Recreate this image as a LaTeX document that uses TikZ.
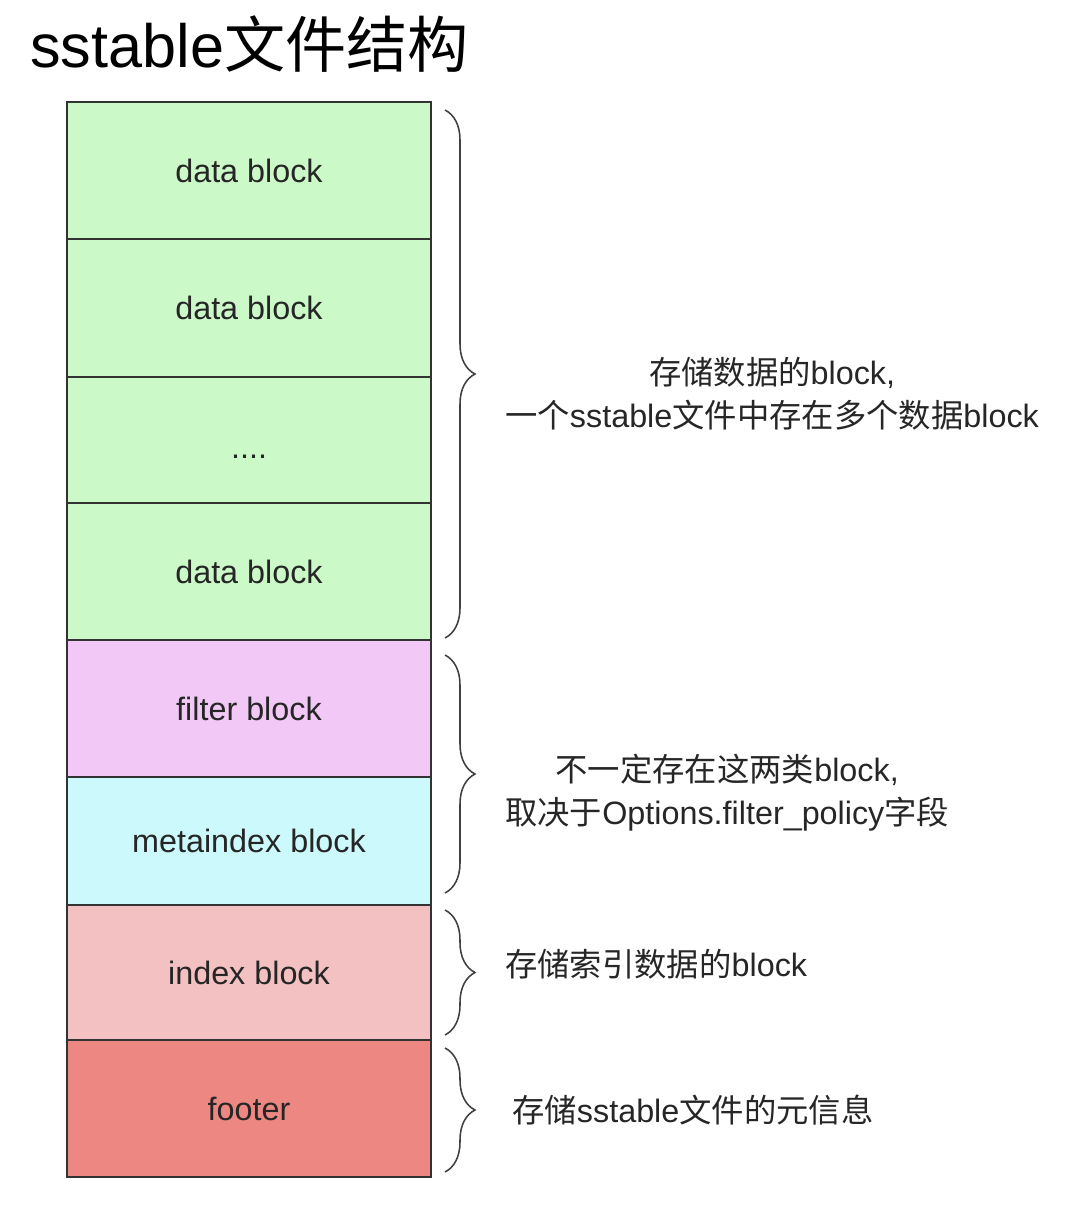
\documentclass[tikz,border=0pt]{standalone}
\usepackage{fontspec}
\setmainfont{Liberation Sans}
\newfontfamily\cjk{Noto Sans CJK SC}
\newcommand\zh[1]{{\cjk #1}}
\usetikzlibrary{positioning}
\usetikzlibrary{calc}
\usetikzlibrary{decorations.pathreplacing}
\definecolor{datagreen}{HTML}{CCF9C8}
\definecolor{filterpink}{HTML}{F1C8F6}
\definecolor{metacyan}{HTML}{CCF9FB}
\definecolor{indexrose}{HTML}{F3C1C1}
\definecolor{footerred}{HTML}{EC8782}

\begin{document}
\begin{tikzpicture}[
  blk/.style={draw=black!80, line width=1.4pt, outer sep=0pt, minimum width=9.1cm,
    text=black!85, font=\fontsize{23}{27}\selectfont},
  brc/.style={decorate, decoration={brace, amplitude=0.75cm}, draw=black!75, line width=1.1pt},
  note/.style={anchor=west, align=center, inner sep=0pt, text=black!85,
    font=\fontsize{23}{30.6}\selectfont}
]

  \useasboundingbox (0, 0) rectangle (26.85, -30.25);

  \node[anchor=base west, inner sep=0pt, font=\fontsize{43.5}{50}\selectfont] (title)
    at (0.75, -1.675) {sstable\zh{文件结构}};

  % the file, top to bottom
  \node[blk, fill=datagreen, minimum height=3.425cm, anchor=north west] (d1) at (1.675, -2.55) {data block};
  \node[blk, fill=datagreen, minimum height=3.45cm, below=0pt of d1] (d2) {data block};
  \node[blk, fill=datagreen, minimum height=3.15cm, below=0pt of d2] (dots) {\smash{\raisebox{-0.45cm}{....}}};
  \node[blk, fill=datagreen, minimum height=3.425cm, below=0pt of dots] (d3) {data block};
  \node[blk, fill=filterpink, minimum height=3.425cm, below=0pt of d3] (filter) {filter block};
  \node[blk, fill=metacyan, minimum height=3.2cm, below=0pt of filter] (meta) {metaindex block};
  \node[blk, fill=indexrose, minimum height=3.375cm, below=0pt of meta] (index) {index block};
  \node[blk, fill=footerred, minimum height=3.425cm, below=0pt of index] (footer) {footer};

  % braces
  \draw[brc] ($(d1.north east)+(0.35, -0.2)$) -- ($(d3.south east)+(0.35, 0.05)$) coordinate[midway] (m1);
  \draw[brc] ($(filter.north east)+(0.35, -0.375)$) -- ($(meta.south east)+(0.35, 0.3)$) coordinate[midway] (m2);
  \draw[brc] ($(index.north east)+(0.35, -0.125)$) -- ($(index.south east)+(0.35, 0.125)$) coordinate[midway] (m3);
  \draw[brc] ($(footer.north east)+(0.35, -0.2)$) -- ($(footer.south east)+(0.35, 0.125)$) coordinate[midway] (m4);

  \node[note] (n1) at ($(m1)+(1.5, -0.5)$)
    {\zh{存储数据的}block,\\\zh{一个}sstable\zh{文件中存在多个数据}block};
  \node[note] (n2) at ($(m2)+(1.5, -0.475)$)
    {\zh{不一定存在这两类}block,\\\zh{取决于}Options.filter\_policy\zh{字段}};
  \node[note] (n3) at ($(m3)+(1.5, 0.2)$) {\zh{存储索引数据的}block};
  \node[note] (n4) at ($(m4)+(1.675, 0)$) {\zh{存储}sstable\zh{文件的元信息}};

\end{tikzpicture}
\end{document}
